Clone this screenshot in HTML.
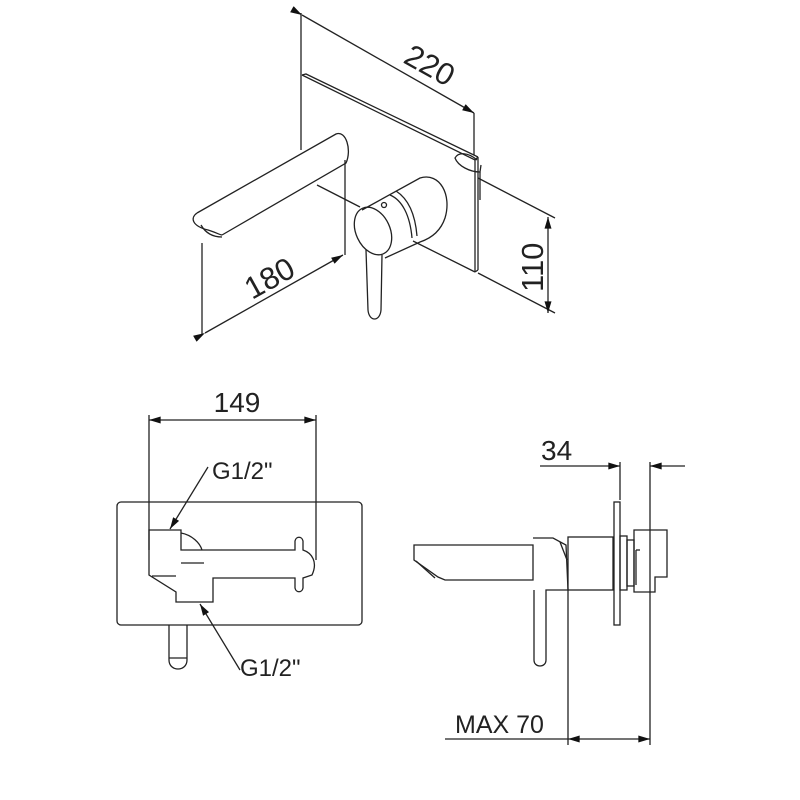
<!DOCTYPE html>
<html><head><meta charset="utf-8"><style>
html,body{margin:0;padding:0;background:#fff;}
svg{display:block;}
text{font-family:"Liberation Sans",sans-serif;fill:#222;}
</style></head><body>
<svg width="800" height="800" viewBox="0 0 800 800" xmlns="http://www.w3.org/2000/svg">
<defs>
<marker id="a" viewBox="0 0 10 6" refX="10" refY="3" markerWidth="18" markerHeight="7" orient="auto" markerUnits="userSpaceOnUse"><path d="M0,0 L10,3 L0,6 z" fill="#111"/></marker>
</defs>
<g stroke="#222" stroke-width="1.3" fill="none">
<line x1="301" y1="13" x2="301" y2="150"/>
<line x1="302" y1="15" x2="474" y2="113" marker-start="url(#a)" marker-end="url(#a)"/>
<line x1="474" y1="113" x2="474" y2="155"/>
<path d="M302,75 L306,74 L478,157"/>
<path d="M302,75 L475,160 L478,157"/>
<line x1="475" y1="160" x2="475" y2="272"/>
<line x1="478" y1="157" x2="478" y2="270"/>
<path d="M475,272 L478,270"/>
<line x1="475" y1="272" x2="413" y2="241"/>
<line x1="317" y1="185" x2="360" y2="207"/>
<path d="M477,160 C468,152 458,152 455,158 C458,166 470,172 480,172 L481,165"/>
<line x1="480" y1="172" x2="480" y2="200"/>
<line x1="478" y1="178" x2="555" y2="218"/>
<line x1="478" y1="273" x2="555" y2="313"/>
<line x1="548" y1="265" x2="548" y2="217" marker-end="url(#a)"/>
<line x1="548" y1="265" x2="548" y2="313" marker-end="url(#a)"/>
<path d="M197,213 L336,134 C346,130 352,150 346,163 L222,235"/>
<path d="M197,213 C190,218 192,226 208,230 C215,232 220,235 222,235"/>
<path d="M201,225 C205,232 212,237 222,237"/>
<line x1="345" y1="160" x2="345" y2="255"/>
<line x1="202" y1="243" x2="202" y2="335"/>
<line x1="205" y1="333" x2="343" y2="255" marker-start="url(#a)" marker-end="url(#a)"/>
<path d="M362,210 L420,178 C440,172 452,195 445,218 C441,230 432,238 420,242 L385,258"/>
<ellipse cx="373" cy="231" rx="17" ry="25" transform="rotate(-25 373 231)"/>
<path d="M390,195 C402,200 410,215 412,238"/>
<path d="M396,191 C407,198 415,212 417,236"/>
<circle cx="384" cy="205" r="2.5"/>
<path d="M366,250 L368,310 C369,322 380,322 381,310 L382,255"/>
</g>
<text x="0" y="0" font-size="31" transform="translate(402,62) rotate(29)">220</text>
<text x="0" y="0" font-size="31" transform="translate(252,300) rotate(-29)">180</text>
<text x="0" y="0" font-size="31" transform="translate(543,292) rotate(-90)">110</text>

<g stroke="#222" stroke-width="1.3" fill="none">
<line x1="149" y1="415" x2="149" y2="550"/>
<line x1="316" y1="415" x2="316" y2="560"/>
<line x1="232" y1="420" x2="149" y2="420" marker-end="url(#a)"/>
<line x1="232" y1="420" x2="316" y2="420" marker-end="url(#a)"/>
<rect x="117" y="502" width="245" height="123" rx="4"/>
<path d="M149,530 L181,530 L181,550 L295,550 L295,541 C296,536 302,536 303,541 L303,550 C312,553 318,562 312,575 L303,578 L303,588 C302,593 296,593 295,588 L295,578 L213,578 L213,602 L176,602 L176,592 L149,575 Z"/>
<path d="M181,533 C192,535 200,543 202,550"/>
<line x1="181" y1="563" x2="204" y2="563"/>
<line x1="152" y1="576" x2="176" y2="576"/>
<line x1="208" y1="467" x2="170" y2="529" marker-end="url(#a)"/>
<line x1="240" y1="670" x2="200" y2="604" marker-end="url(#a)"/>
<path d="M169,625 L169,660 C169,672 187,672 187,660 L187,625"/>
<line x1="169" y1="658" x2="187" y2="658"/>

<line x1="620" y1="462" x2="620" y2="500"/>
<line x1="650" y1="462" x2="650" y2="745"/>
<line x1="540" y1="466" x2="620" y2="466" marker-end="url(#a)"/>
<line x1="685" y1="466" x2="650" y2="466" marker-end="url(#a)"/>
<line x1="568" y1="590" x2="568" y2="745"/>
<line x1="445" y1="739" x2="568" y2="739"/>
<line x1="610" y1="739" x2="568" y2="739" marker-end="url(#a)"/>
<line x1="610" y1="739" x2="650" y2="739" marker-end="url(#a)"/>
<path d="M414,545 L533,545 L533,580 L445,580 L438,577 L414,560 Z"/>
<line x1="416" y1="561" x2="435" y2="578"/>
<path d="M533,538 L553,538 L566,545 L568,590 L546,590 L546,660 C546,668 534,668 534,660 L534,590"/>
<line x1="560" y1="542" x2="567" y2="560"/>
<rect x="568" y="537" width="45" height="53"/>
<rect x="614" y="502" width="6" height="123"/>
<rect x="620" y="536" width="7" height="54"/>
<rect x="627" y="540" width="7" height="46"/>
<path d="M634,530 L667,530 L667,577 L655,577 L655,592 L634,592 Z"/>
<line x1="636" y1="550" x2="640" y2="550"/>
<line x1="636" y1="550" x2="636" y2="585"/>
</g>
<text x="237" y="412" font-size="28" text-anchor="middle">149</text>
<text x="212" y="479" font-size="24">G1/2"</text>
<text x="240" y="676" font-size="24">G1/2"</text>
<text x="541" y="460" font-size="28">34</text>
<text x="455" y="733" font-size="25">MAX 70</text>
</svg>
</body></html>
